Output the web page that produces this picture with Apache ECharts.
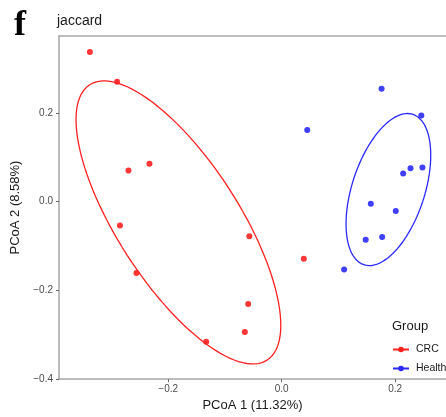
<!DOCTYPE html>
<html>
	<head>
		<meta charset="utf-8">
		<title>PCoA jaccard</title>
		<script src="https://cdn.jsdelivr.net/npm/echarts@6/dist/echarts.min.js"></script>
		<style>
			html, body { margin: 0; padding: 0; background: #fff; }
		</style>
	</head>
	<body>
		<div id="main" style="width: 446px;height:417px;"></div>
		<script type="text/javascript">
			// group names
			var groups = ['CRC', 'Health'];
			// PCoA coordinates per group [PCoA1, PCoA2]
			var crcPoints = [
				[-0.338, 0.337], [-0.290, 0.270], [-0.270, 0.070], [-0.233, 0.085],
				[-0.285, -0.054], [-0.256, -0.161], [-0.133, -0.316], [-0.057, -0.078],
				[0.039, -0.129], [-0.059, -0.231], [-0.065, -0.294]
			];
			var healthPoints = [
				[0.176, 0.254], [0.246, 0.194], [0.045, 0.161], [0.214, 0.063],
				[0.227, 0.075], [0.248, 0.077], [0.157, -0.005], [0.201, -0.021],
				[0.148, -0.086], [0.177, -0.080], [0.110, -0.153]
			];
			// confidence ellipses: centre and two conjugate half-axis vectors
			var crcEllipse = [[-0.182, -0.047], [0.1804, -0.2316], [0, -0.2192]];
			var healthEllipse = [[0.188, 0.027], [0.0746, 0.0774], [0, -0.1529]];
			// axis ticks
			var xTicks = [-0.2, 0.0, 0.2];
			var yTicks = [-0.4, -0.2, 0.0, 0.2];

			function ellipsePath(e) {
				var pts = [];
				for (var i = 0; i <= 120; i++) {
					var t = i / 120 * Math.PI * 2;
					pts.push([
						e[0][0] + e[1][0] * Math.cos(t) + e[2][0] * Math.sin(t),
						e[0][1] + e[1][1] * Math.cos(t) + e[2][1] * Math.sin(t)
					]);
				}
				return pts;
			}

			var font = 'Liberation Sans, Arial, sans-serif';
			var red = '#ff2020', blue = '#2a2aff';
			var axisGray = '#a6a6a6';

			var myChart = echarts.init(document.getElementById('main'));
			var option = {
				animation: false,
				textStyle: { fontFamily: font },
				graphic: [
					{ type: 'text', left: 14, top: 8, style: { text: 'f', font: 'bold 36px Liberation Serif, Times New Roman, serif', fill: '#000' } },
					{ type: 'text', left: 57, top: 14, style: { text: 'jaccard', font: '14px ' + font, fill: '#1a1a1a' } },
					{ type: 'text', left: 392, top: 320, style: { text: 'Group', font: '13px ' + font, fill: '#1a1a1a' } }
				],
				legend: {
					data: groups,
					orient: 'vertical',
					left: 392,
					top: 344,
					padding: 0,
					itemWidth: 16,
					itemHeight: 7,
					itemGap: 8,
					textStyle: { fontSize: 10.5, color: '#1a1a1a', fontFamily: font, padding: [0, 0, 0, 2] }
				},
				grid: { left: 59, right: 0, top: 36, bottom: 34 },
				xAxis: [{
					type: 'value',
					min: -0.3924,
					max: 0.2895,
					name: 'PCoA 1 (11.32%)',
					nameLocation: 'middle',
					nameGap: 16,
					nameTextStyle: { fontSize: 13, color: '#1a1a1a' },
					splitLine: { show: false },
					axisLine: { onZero: false, lineStyle: { color: axisGray, width: 1.5 } },
					axisTick: { length: 3, customValues: xTicks, lineStyle: { color: '#666' } },
					axisLabel: {
						customValues: xTicks, margin: 5, fontSize: 10, color: '#4d4d4d',
						formatter: function (v) { return v.toFixed(1).replace('-', '\u2212'); }
					}
				}, {
					type: 'value',
					position: 'top',
					min: 0, max: 1,
					splitLine: { show: false },
					axisLine: { show: true, onZero: false, lineStyle: { color: axisGray, width: 1.5 } },
					axisTick: { show: false },
					axisLabel: { show: false }
				}],
				yAxis: {
					type: 'value',
					min: -0.4,
					max: 0.373,
					name: 'PCoA 2 (8.58%)',
					nameLocation: 'middle',
					nameGap: 26,
					nameTextStyle: { fontSize: 13, color: '#1a1a1a' },
					splitLine: { show: false },
					axisLine: { show: true, onZero: false, lineStyle: { color: axisGray, width: 1.5 } },
					axisTick: { show: true, length: 3, customValues: yTicks, lineStyle: { color: '#666' } },
					axisLabel: {
						customValues: yTicks, margin: 6, fontSize: 10, color: '#4d4d4d',
						formatter: function (v) { return v.toFixed(1).replace('-', '\u2212'); }
					}
				},
				series: [{
					name: 'CRC',
					type: 'line',
					data: ellipsePath(crcEllipse),
					showSymbol: false,
					symbol: 'circle',
					symbolSize: 6,
					itemStyle: { color: red },
					lineStyle: { color: red, width: 1.3 },
					silent: true
				}, {
					name: 'Health',
					type: 'line',
					data: ellipsePath(healthEllipse),
					showSymbol: false,
					symbol: 'circle',
					symbolSize: 6,
					itemStyle: { color: blue },
					lineStyle: { color: blue, width: 1.3 },
					silent: true
				}, {
					name: 'CRC',
					type: 'scatter',
					data: crcPoints,
					symbolSize: 6,
					itemStyle: { color: red, opacity: 0.9 }
				}, {
					name: 'Health',
					type: 'scatter',
					data: healthPoints,
					symbolSize: 6,
					itemStyle: { color: blue, opacity: 0.9 }
				}]
			};
			myChart.setOption(option);
		</script>
	</body>
</html>
